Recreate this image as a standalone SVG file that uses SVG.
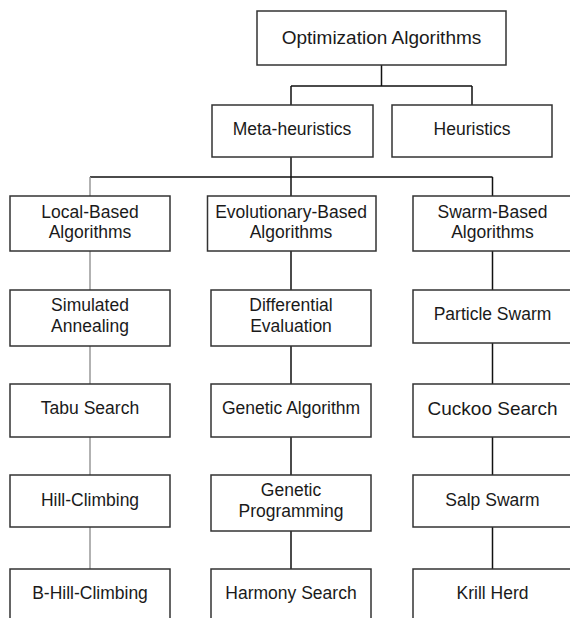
<svg xmlns="http://www.w3.org/2000/svg" width="570" height="618" viewBox="0 0 570 618">
<style>
.box{fill:#fff;stroke:#333;stroke-width:1.5}
.t{font-family:"Liberation Sans",Arial,sans-serif;font-size:17.5px;fill:#1a1a1a;text-anchor:middle}
.big{font-size:19px}
.c{fill:none;stroke:#111;stroke-width:1.5}
.g{fill:none;stroke:#999;stroke-width:1.5}
</style>
<rect width="570" height="618" fill="#fff"/>
<g id="connectors">
<path class="c" d="M381.5 65V86M291 86H472M291 86V105M472 86V105"/>
<path class="c" d="M291 157V177M90 177H492.5M291 177V196M492.5 177V196"/>
<path class="g" d="M90 177V196"/>
<path class="g" d="M90 251V290M90 346V384M90 437V475M90 527V569"/>
<path class="c" d="M291 251V290M291 346V384M291 437V475M291 531V569"/>
<path class="c" d="M492.5 251V290M492.5 343V384M492.5 437V475M492.5 527V569"/>
</g>
<g id="optimization"><rect class="box" x="257" y="11" width="249" height="54"/><text class="t big" x="381.5" y="43.5">Optimization Algorithms</text></g>
<g id="meta"><rect class="box" x="212" y="105" width="161" height="52"/><text class="t" x="292" y="135">Meta-heuristics</text></g>
<g id="heuristics"><rect class="box" x="392" y="105" width="160" height="52"/><text class="t" x="472" y="135">Heuristics</text></g>
<g id="local"><rect class="box" x="10" y="196" width="160" height="55"/><text class="t" x="90" y="217.5">Local-Based</text><text class="t" x="90" y="237.5">Algorithms</text></g>
<g id="evolutionary"><rect class="box" x="207.5" y="196" width="168.5" height="55"/><text class="t" x="291" y="217.5">Evolutionary-Based</text><text class="t" x="291" y="237.5">Algorithms</text></g>
<g id="swarm"><rect class="box" x="413" y="196" width="160" height="55"/><text class="t" x="492.5" y="217.5">Swarm-Based</text><text class="t" x="492.5" y="237.5">Algorithms</text></g>
<g id="simulated"><rect class="box" x="10" y="290" width="160" height="56"/><text class="t" x="90" y="311">Simulated</text><text class="t" x="90" y="331.5">Annealing</text></g>
<g id="differential"><rect class="box" x="211" y="290" width="160" height="56"/><text class="t" x="291" y="311">Differential</text><text class="t" x="291" y="331.5">Evaluation</text></g>
<g id="particle"><rect class="box" x="413" y="290" width="160" height="53"/><text class="t" x="492.5" y="319.5">Particle Swarm</text></g>
<g id="tabu"><rect class="box" x="10" y="384" width="160" height="53"/><text class="t" x="90" y="414">Tabu Search</text></g>
<g id="genetic-algorithm"><rect class="box" x="211" y="384" width="160" height="53"/><text class="t" x="291" y="414">Genetic Algorithm</text></g>
<g id="cuckoo"><rect class="box" x="413" y="384" width="160" height="53"/><text class="t big" x="492.5" y="414.5">Cuckoo Search</text></g>
<g id="hill"><rect class="box" x="10" y="475" width="160" height="52"/><text class="t" x="90" y="506">Hill-Climbing</text></g>
<g id="genetic-programming"><rect class="box" x="211" y="475" width="160" height="56"/><text class="t" x="291" y="496">Genetic</text><text class="t" x="291" y="517">Programming</text></g>
<g id="salp"><rect class="box" x="413" y="475" width="160" height="52"/><text class="t" x="492.5" y="506">Salp Swarm</text></g>
<g id="bhill"><rect class="box" x="10" y="569" width="160" height="60"/><text class="t" x="90" y="599">B-Hill-Climbing</text></g>
<g id="harmony"><rect class="box" x="211" y="569" width="160" height="60"/><text class="t" x="291" y="599">Harmony Search</text></g>
<g id="krill"><rect class="box" x="413" y="569" width="160" height="60"/><text class="t" x="492.5" y="599">Krill Herd</text></g>
</svg>
